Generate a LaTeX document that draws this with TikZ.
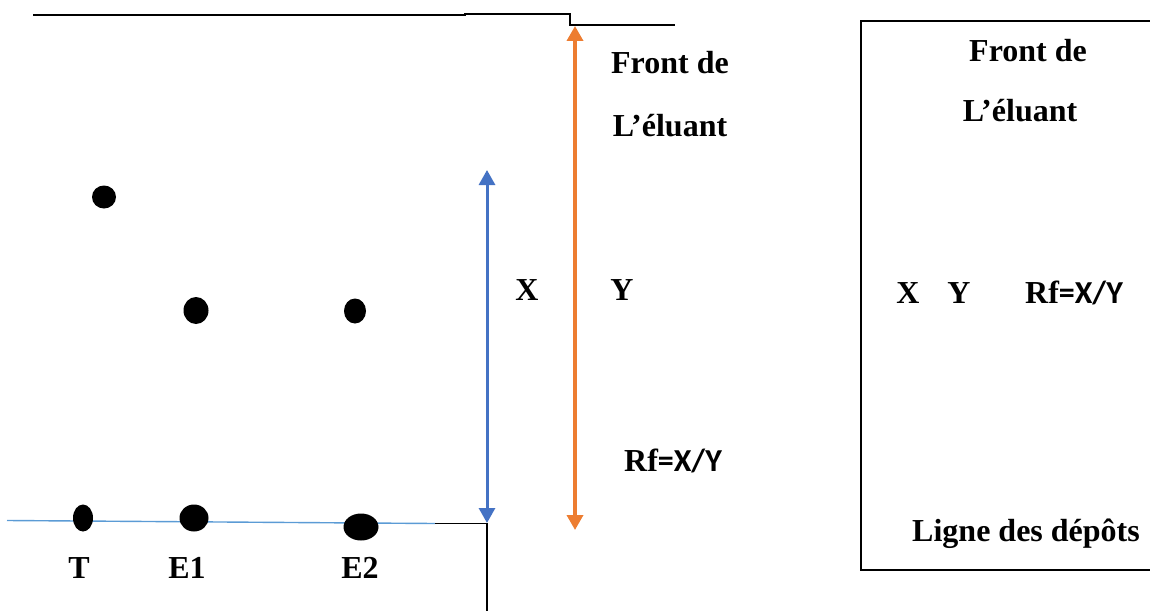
\documentclass[tikz,border=0pt]{standalone}
\usepackage{fontspec}
\setmainfont{Liberation Serif}
\newfontfamily\calib{Carlito}
\usetikzlibrary{arrows.meta,shapes.geometric}
\definecolor{orng}{RGB}{237,125,49}
\definecolor{blu}{RGB}{68,114,196}
\definecolor{lblu}{RGB}{91,155,213}
\tikzset{
  spot/.style={ellipse,fill=black,draw=none,inner sep=0pt},
  lbl/.style={font=\fontsize{32}{38}\selectfont\bfseries,inner sep=0pt,anchor=center},
  edge/.style={draw=black,line width=1.4pt},
  dbl/.style={line width=#1,{Triangle[width=16pt,length=15pt]}-{Triangle[width=16pt,length=15pt]}},
}
\newcommand{\rfx}{Rf{\calib=X/Y}}
\begin{document}
\begin{tikzpicture}[x=1pt,y=-1pt]
\useasboundingbox (0,0) rectangle (1150,610);
% plate outline
\coordinate (t1) at (33,15);
\coordinate (t2) at (465,15);
\coordinate (t3) at (465,14);
\coordinate (t4) at (570,14);
\coordinate (t5) at (570,25);
\coordinate (t6) at (675,25);
\draw[edge] (t1) -- (t2) -- (t3) -- (t4) -- (t5) -- (t6);
% baseline
\coordinate (b1) at (7,520.5);
\coordinate (b2) at (435,523.5);
\coordinate (b3) at (487,523.5);
\coordinate (b4) at (487,612);
\draw[lblu,line width=1.4pt] (b1) -- (b2);
\draw[edge] (b2) -- (b3) -- (b4);
% spots
\node[spot,minimum width=24pt,minimum height=23pt] (s1) at (104,197) {};
\node[spot,minimum width=25pt,minimum height=27pt] (s2) at (196,310.5) {};
\node[spot,minimum width=22pt,minimum height=25pt] (s3) at (355,311) {};
\node[spot,minimum width=20pt,minimum height=27pt] (sT) at (83,518) {};
\node[spot,minimum width=29pt,minimum height=27pt] (sE1) at (194,518) {};
\node[spot,minimum width=35pt,minimum height=27pt] (sE2) at (361,527) {};
% arrows
\coordinate (xa) at (487,170);
\coordinate (xb) at (487,523);
\draw[blu,dbl=3pt] (xa) -- (xb);
\coordinate (ya) at (575,26);
\coordinate (yb) at (575,530);
\draw[orng,dbl=3.5pt] (ya) -- (yb);
% labels
\node[lbl] (lT) at (79,568) {T};
\node[lbl] (lE1) at (187,568) {E1};
\node[lbl] (lE2) at (360,568) {E2};
\node[lbl] (lX) at (527,290) {X};
\node[lbl] (lY) at (622,290) {Y};
\node[lbl] (f1) at (670,63) {Front de};
\node[lbl] (f2) at (670,126) {L’éluant};
\node[lbl] (rf) at (673,461) {\rfx};
% legend box
\coordinate (r1) at (861,21);
\coordinate (r2) at (1160,570);
\draw[edge] (r1) rectangle (r2);
\node[lbl] (g1) at (1028,51) {Front de};
\node[lbl] (g2) at (1020,111) {L’éluant};
\node[lbl] (gX) at (908,293) {X};
\node[lbl] (gY) at (959,293) {Y};
\node[lbl] (grf) at (1074,293) {\rfx};
\node[lbl] (gl) at (1026,534) {Ligne des dépôts};
\end{tikzpicture}
\end{document}
